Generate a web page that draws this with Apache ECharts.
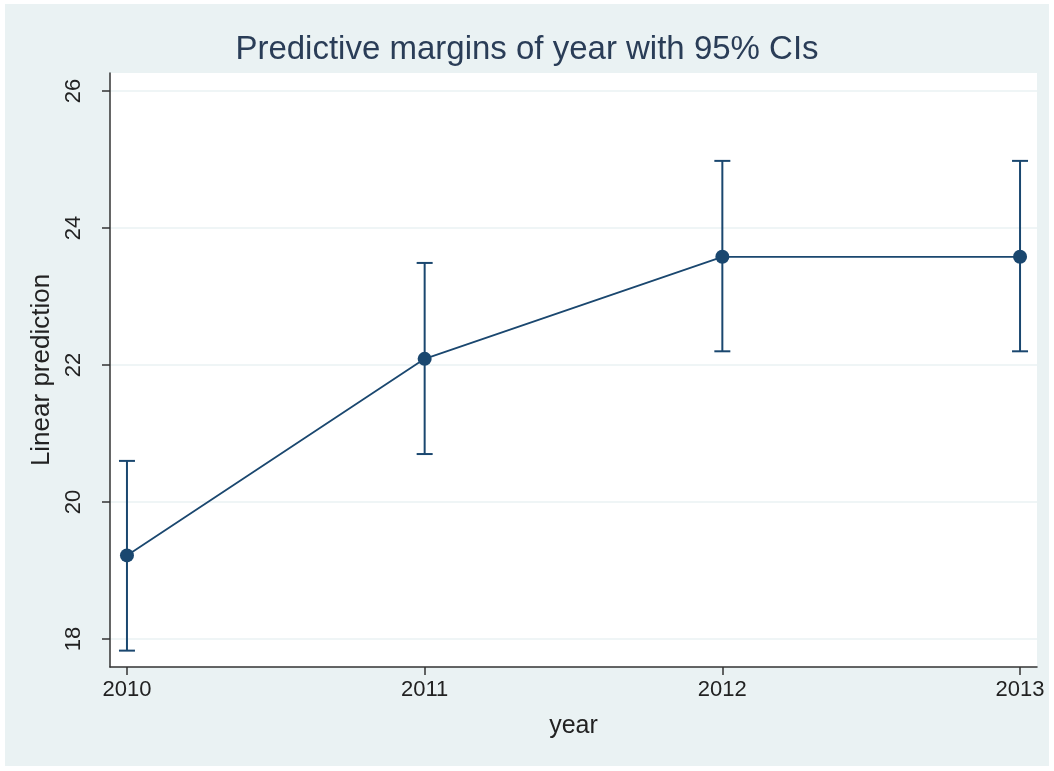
<!DOCTYPE html>
<html>
<head>
<meta charset="utf-8">
<script src="https://cdn.jsdelivr.net/npm/echarts@6/dist/echarts.min.js"></script>
<style>
html,body{margin:0;padding:0;background:#ffffff;}
#chart{position:absolute;left:5px;top:4px;width:1044px;height:762px;}
</style>
</head>
<body>
<div id="chart"></div>
<script>
// Data
const years = [2010, 2011, 2012, 2013];
const margins = [19.22, 22.09, 23.58, 23.58];
const ciLow = [17.83, 20.70, 22.20, 22.20];
const ciHigh = [20.60, 23.49, 24.98, 24.98];
const yTicks = [18, 20, 22, 24, 26];
const xTicks = [2010, 2011, 2012, 2013];

const chart = echarts.init(document.getElementById('chart'));
const navy = '#1a476f';
const font = '"Liberation Sans", Arial, sans-serif';

const lineData = years.map((y, i) => [y, margins[i]]);
const ciData = years.map((y, i) => [y, ciLow[i], ciHigh[i]]);

chart.setOption({
  backgroundColor: '#eaf2f3',
  animation: false,
  title: {
    text: 'Predictive margins of year with 95% CIs',
    left: 'center',
    top: 24,
    textStyle: { fontFamily: font, fontSize: 33, fontWeight: 'normal', color: '#2a3d57' }
  },
  grid: {
    left: 105, right: 12, top: 69, bottom: 99,
    show: true, backgroundColor: '#ffffff', borderWidth: 0
  },
  xAxis: {
    type: 'value',
    min: 2009.943, max: 2013.057,
    name: 'year',
    nameLocation: 'middle',
    nameGap: 47,
    nameTextStyle: { fontFamily: font, fontSize: 25, color: '#222' },
    axisLine: { show: true, onZero: false, lineStyle: { color: '#333', width: 1.5 } },
    axisTick: { show: true, length: 8, customValues: xTicks, lineStyle: { color: '#333', width: 1.5 } },
    axisLabel: { customValues: xTicks, fontFamily: font, fontSize: 22, color: '#222', margin: 12,
      formatter: v => String(v) },
    splitLine: { show: false }
  },
  yAxis: {
    type: 'value',
    min: 17.591, max: 26.263,
    name: 'Linear prediction',
    nameLocation: 'middle',
    nameGap: 50,
    nameRotate: 90,
    nameTextStyle: { fontFamily: font, fontSize: 26, color: '#222' },
    axisLine: { show: true, onZero: false, lineStyle: { color: '#333', width: 1.5 } },
    axisTick: { show: true, length: 8, customValues: yTicks, lineStyle: { color: '#333', width: 1.5 } },
    axisLabel: { customValues: yTicks, rotate: 90, fontFamily: font, fontSize: 22, color: '#222', margin: 25,
      formatter: v => String(v) },
    splitLine: { show: true, lineStyle: { color: '#eaf2f3', width: 1.5 } }
  },
  series: [
    {
      type: 'custom',
      data: ciData,
      z: 2,
      renderItem: function (params, api) {
        const x = api.value(0);
        const lo = api.coord([x, api.value(1)]);
        const hi = api.coord([x, api.value(2)]);
        const cap = 8;
        const style = { stroke: navy, lineWidth: 2 };
        return {
          type: 'group',
          children: [
            { type: 'line', shape: { x1: lo[0], y1: lo[1], x2: hi[0], y2: hi[1] }, style: style },
            { type: 'line', shape: { x1: lo[0] - cap, y1: lo[1], x2: lo[0] + cap, y2: lo[1] }, style: style },
            { type: 'line', shape: { x1: hi[0] - cap, y1: hi[1], x2: hi[0] + cap, y2: hi[1] }, style: style }
          ]
        };
      }
    },
    {
      type: 'line',
      data: lineData,
      z: 3,
      symbol: 'circle',
      symbolSize: 14,
      lineStyle: { color: navy, width: 1.8 },
      itemStyle: { color: navy }
    }
  ]
});
</script>
</body>
</html>
